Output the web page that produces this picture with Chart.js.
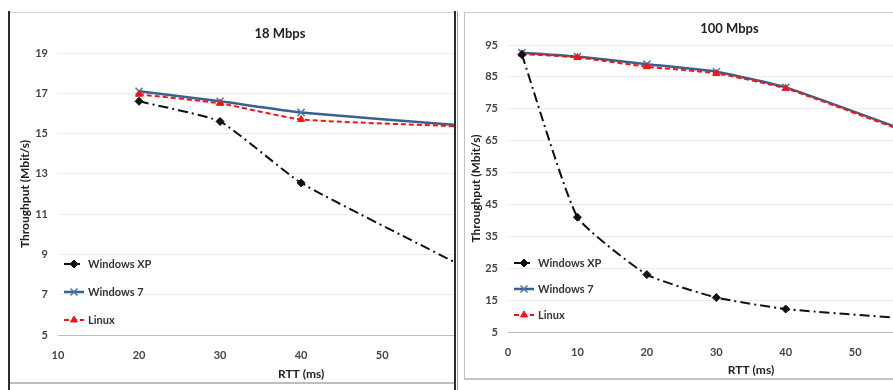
<!DOCTYPE html>
<html>
<head>
<meta charset="utf-8">
<script src="https://cdn.jsdelivr.net/npm/chart.js@4/dist/chart.umd.min.js"></script>
<style>
  html, body { margin: 0; padding: 0; background: #fff; overflow: hidden; }
  body { width: 893px; height: 390px; position: relative; }
  .frame { position: absolute; overflow: hidden; background: #fff; }
  #frameL { left: 10px; top: 12px; width: 444px; height: 369px; border-top: 1px solid #d2d2d2; border-bottom: 2px solid #bdbdbd; }
  #frameR { left: 464px; top: 12px; width: 440px; height: 365px; border-left: 1px solid #c4c4c4; border-top: 1px solid #cfcfcf; border-bottom: 2px solid #c4c4c4; }
  .rule { position: absolute; top: 11px; height: 379px; }
  canvas { position: absolute; left: 0; top: 0; }
</style>
</head>
<body>
<div class="rule" style="left:8px;width:2px;background:#2b2b2b"></div>
<div class="rule" style="left:454px;width:2px;background:#2b2b2b"></div>
<div class="rule" style="left:457px;width:1px;background:#9a9a9a"></div>
<div class="frame" id="frameL"><canvas id="chart18" width="554" height="369"></canvas></div>
<div class="frame" id="frameR"><canvas id="chart100" width="554" height="365"></canvas></div>
<script>
// 18 Mbps
const rtt18 = [20, 30, 40, 60];
const xp18 = [16.6, 15.6, 12.55, 8.4];
const win7_18 = [17.1, 16.6, 16.05, 15.4];
const linux18 = [16.95, 16.5, 15.7, 15.35];

// 100 Mbps
const rtt100 = [2, 10, 20, 30, 40, 60];
const xp100 = [92, 41, 23, 15.8, 12.2, 8.8];
const win7_100 = [92.6, 91.4, 89, 86.6, 81.7, 66];
const linux100 = [92.2, 91.1, 88.2, 86.1, 81.4, 65.6];

const seriesNames = ['Windows XP', 'Windows 7', 'Linux'];

Chart.defaults.font.family = 'Lato, "Open Sans", sans-serif';
Chart.defaults.color = '#3a3a3a';

function pts(xs, ys) {
    return xs.map((x, i) => ({ x: x, y: ys[i] }));
}

function makeDatasets(xs, xp, w7, lx) {
    return [{
        label: seriesNames[0],
        data: pts(xs, xp),
        borderColor: '#111',
        borderWidth: 2,
        borderDash: [10, 4, 2, 4],
        pointStyle: 'rectRot',
        pointRadius: 4,
        pointBackgroundColor: '#111',
        pointBorderColor: '#111',
        pointBorderWidth: 1,
        order: 0
    }, {
        label: seriesNames[1],
        data: pts(xs, w7),
        borderColor: '#37618f',
        borderWidth: 2.5,
        pointStyle: 'crossRot',
        pointRadius: 5,
        pointBackgroundColor: '#37618f',
        pointBorderColor: '#4a78ad',
        pointBorderWidth: 1.5,
        order: 2
    }, {
        label: seriesNames[2],
        data: pts(xs, lx),
        borderColor: '#ff1010',
        borderWidth: 2,
        borderDash: [5, 3],
        pointStyle: 'triangle',
        pointRadius: 4,
        pointBackgroundColor: '#ff1010',
        pointBorderColor: '#ff1010',
        pointBorderWidth: 1,
        order: 1
    }];
}

// legend drawn inside the plot, Excel style (line + marker + label)
const insideLegend = {
    id: 'insideLegend',
    afterDatasetsDraw(chart, args, opts) {
        const ctx = chart.ctx;
        ctx.save();
        chart.data.datasets.forEach((ds, i) => {
            const y = opts.top + i * opts.gap;
            ctx.strokeStyle = ds.borderColor;
            ctx.lineWidth = ds.borderWidth;
            ctx.setLineDash(ds.borderDash || []);
            ctx.beginPath();
            ctx.moveTo(opts.left, y);
            ctx.lineTo(opts.left + 20, y);
            ctx.stroke();
            ctx.setLineDash([]);
            ctx.fillStyle = ds.pointBackgroundColor;
            ctx.strokeStyle = ds.pointBorderColor;
            ctx.lineWidth = ds.pointBorderWidth;
            Chart.helpers.drawPoint(ctx, {
                pointStyle: ds.pointStyle,
                radius: ds.pointRadius,
                borderWidth: ds.pointBorderWidth,
                rotation: 0
            }, opts.left + 10, y);
            ctx.fillStyle = '#333';
            ctx.font = 'bold 11px Lato, "Open Sans", sans-serif';
            ctx.textBaseline = 'middle';
            ctx.fillText(ds.label, opts.left + 24, y);
        });
        ctx.restore();
    }
};

function makeConfig(title, datasets, s) {
    return {
        type: 'line',
        data: { datasets: datasets },
        options: {
            responsive: false,
            animation: false,
            layout: { padding: { left: 0, right: s.padRight, top: 0, bottom: 0 } },
            elements: { line: { tension: 0.15 } },
            plugins: {
                legend: { display: false },
                tooltip: { enabled: false },
                title: {
                    display: true,
                    text: title,
                    color: '#222',
                    font: { size: 13, weight: 'bold', lineHeight: 1.2 },
                    padding: { top: s.titleTop, bottom: s.titleBottom }
                },
                insideLegend: s.legend
            },
            scales: {
                x: {
                    type: 'linear',
                    min: s.xMin,
                    max: 70,
                    afterFit: (sc) => { sc.height = s.xHeight; },
                    grid: { display: false, drawTicks: false },
                    border: { display: true, color: '#bcbcbc', width: 1 },
                    ticks: { stepSize: 10, padding: 13.4, font: { size: 11, weight: 'bold', lineHeight: 1.2 }, color: '#444' },
                    title: {
                        display: true,
                        text: 'RTT (ms)',
                        color: '#222',
                        font: { size: 12, weight: 'bold', lineHeight: 1.2 },
                        padding: { top: 0, bottom: 1 }
                    }
                },
                y: {
                    min: s.yMin,
                    max: s.yMax,
                    afterFit: (sc) => { sc.width = s.yWidth; },
                    grid: { color: '#ececec', drawTicks: false },
                    border: { display: false },
                    ticks: { stepSize: s.yStep, padding: 10, font: { size: 11, weight: 'bold', lineHeight: 1.2 }, color: '#444' },
                    title: {
                        display: true,
                        text: 'Throughput (Mbit/s)',
                        color: '#222',
                        font: { size: 12, weight: 'bold', lineHeight: 1.2 },
                        padding: { top: s.yTitlePad, bottom: 0 }
                    }
                }
            }
        },
        plugins: [insideLegend]
    };
}

let config = [];
config.push(makeConfig('18 Mbps', makeDatasets(rtt18, xp18, win7_18, linux18), {
    padRight: 14, titleTop: 13.2, titleBottom: 11.2,
    xMin: 10, xHeight: 47, yMin: 5, yMax: 19, yStep: 2, yWidth: 48, yTitlePad: 7.8,
    legend: { left: 54, top: 251, gap: 28 }
}));
config.push(makeConfig('100 Mbps', makeDatasets(rtt100, xp100, win7_100, linux100), {
    padRight: 25, titleTop: 8.2, titleBottom: 8.2,
    xMin: 0, xHeight: 46, yMin: 5, yMax: 95, yStep: 10, yWidth: 43, yTitlePad: 3.8,
    legend: { left: 49, top: 250, gap: 26 }
}));

let charts = [];
document.querySelectorAll('canvas').forEach((element, index) => {
    charts.push(new Chart(element, config[index]));
});
</script>
</body>
</html>
